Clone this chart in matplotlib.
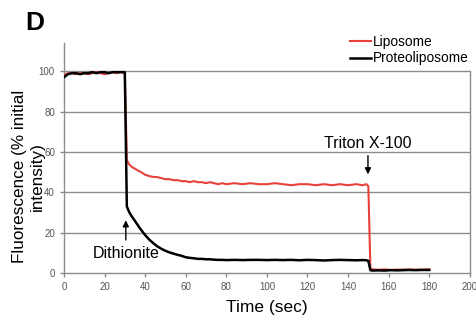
import matplotlib
matplotlib.use("Agg")
import matplotlib.pyplot as plt

plt.rcParams['font.family'] = ['Liberation Sans', 'DejaVu Sans']

# time points (sec)
time = [0, 2, 4, 6, 8, 10, 12, 14, 16, 18, 20, 22, 24, 26, 28, 30,
        31, 32, 33, 34, 35, 36, 37, 38, 40, 42, 44, 46, 48, 50, 52, 54, 56, 58,
        60, 62, 64, 66, 68, 70, 72, 74, 76, 78, 80, 84, 88, 92, 96, 100,
        104, 108, 112, 116, 120, 124, 128, 132, 136, 140, 144, 147, 149, 150,
        151, 152, 155, 158, 161, 164, 167, 170, 173, 176, 180]

liposome = [98, 99, 99, 98.5, 99, 99, 98.5, 99, 99.5, 99, 98.5, 99, 99.5, 99, 99.5, 99,
            56, 54, 53, 52.2, 51.7, 51, 50.5, 50, 48.7, 48, 47.6, 47.5, 47, 46.5, 46.5, 46, 46, 45.5,
            45.5, 45, 45.5, 45, 45, 44.5, 45, 44.5, 44, 44.5, 44, 44.5, 44, 44.5, 44, 44,
            44.5, 44, 43.5, 44, 44, 43.5, 44, 43.5, 44, 43.5, 44, 43.5, 44, 43,
            2, 1.8, 1.6, 1.8, 1.5, 1.7, 1.6, 1.8, 1.6, 1.7, 1.8]

proteoliposome = [97, 98.5, 99, 99, 98.5, 99, 99, 99.5, 99, 99.5, 99.5, 99, 99.5, 99.5, 99.5, 99.5,
                  33, 30.5, 28.7, 27.2, 25.8, 24.3, 22.8, 21.4, 18.8, 16.6, 14.8, 13.2, 12, 11, 10.2, 9.6, 9, 8.5,
                  7.8, 7.5, 7.3, 7, 7, 6.8, 6.8, 6.6, 6.5, 6.5, 6.4, 6.5, 6.4, 6.5, 6.5, 6.4,
                  6.5, 6.4, 6.5, 6.3, 6.5, 6.4, 6.2, 6.4, 6.5, 6.4, 6.3, 6.4, 6.3, 6,
                  1.4, 1.2, 1.3, 1.2, 1.4, 1.3, 1.4, 1.5, 1.4, 1.5, 1.5]

fig = plt.figure(figsize=(4.77, 3.25), dpi=100)
ax = fig.add_axes([0.134, 0.16, 0.851, 0.708])

grid_col = '#8c8c8c'
for yv in [20, 40, 60, 80, 100]:
    ax.axhline(yv, color=grid_col, lw=1, zorder=1)
ax.plot([200, 200], [0, 100], color=grid_col, lw=1, zorder=1, clip_on=False)

ax.plot(time, liposome, color='#e8413c', lw=1.5, label='Liposome', zorder=3)
ax.plot(time, proteoliposome, color='black', lw=1.8, label='Proteoliposome', zorder=4)

ax.set_xlim(0, 200)
ax.set_ylim(0, 114)
ax.set_xticks(range(0, 201, 20))
ax.set_yticks(range(0, 101, 20))
for s in ['top', 'right']:
    ax.spines[s].set_visible(False)
for s in ['left', 'bottom']:
    ax.spines[s].set_color(grid_col)
    ax.spines[s].set_linewidth(1)
ax.tick_params(colors=grid_col, labelcolor='#555555', labelsize=7, length=3, width=1)

ax.set_xlabel('Time (sec)', fontsize=12.5, labelpad=6)
fig.text(0.06, 0.458, 'Fluorescence (% initial\nintensity)', fontsize=12.3,
         rotation=90, ha='center', va='center', multialignment='center')

ax.annotate('', xy=(149.8, 47.5), xytext=(149.8, 59.5),
            arrowprops=dict(arrowstyle='-|>', color='black', lw=1, mutation_scale=9))
ax.text(149.5, 64, 'Triton X-100', fontsize=11.5, ha='center', va='center')
ax.annotate('', xy=(30.5, 27.5), xytext=(30.5, 15),
            arrowprops=dict(arrowstyle='-|>', color='black', lw=1, mutation_scale=9))
ax.text(30.5, 9.5, 'Dithionite', fontsize=11.5, ha='center', va='center')

fig.text(0.052, 0.93, 'D', fontsize=19, fontweight='bold', va='center')

ax.legend(loc='center left', bbox_to_anchor=(0.734, 0.846), bbox_transform=fig.transFigure,
          frameon=False, fontsize=9.9, handlelength=1.5, handletextpad=0.15,
          labelspacing=0.2, borderpad=0, borderaxespad=0)

fig.savefig('out.png', dpi=100)
